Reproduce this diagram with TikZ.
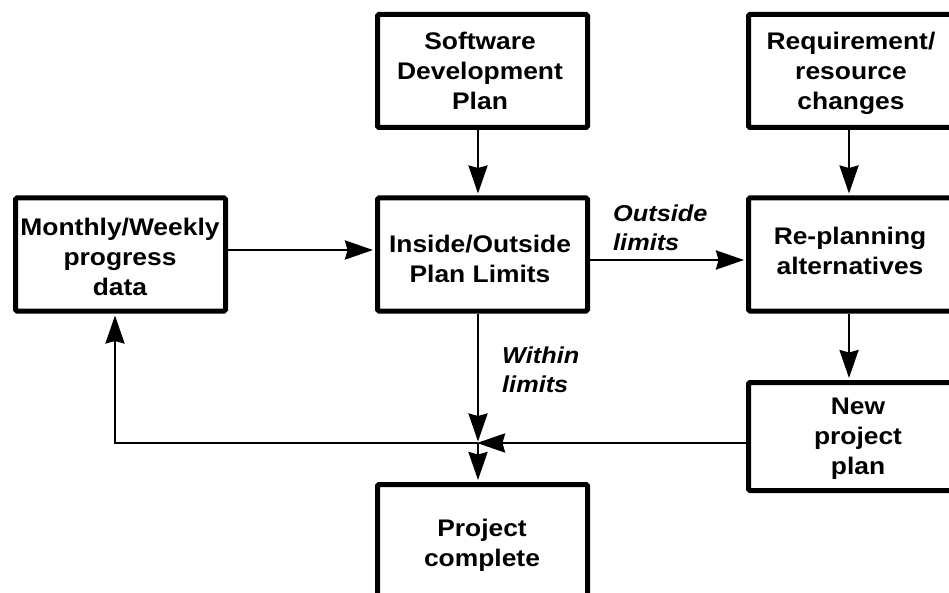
\documentclass[tikz,border=0pt]{standalone}
\usepackage{fontspec}
\setmainfont{Liberation Sans}
\newfontfamily\boxfont[FakeStretch=1.1]{Liberation Sans}
\usetikzlibrary{arrows.meta}
\begin{document}
\begin{tikzpicture}[x=1pt,y=-1pt,
  box/.style={draw, line width=5pt, rounded corners=1.5pt, fill=white,
    minimum width=210pt, minimum height=113pt, inner sep=0pt},
  boxtext/.style={inner sep=0pt, align=center,
    font=\boxfont\bfseries\fontsize{24}{30}\selectfont},
  flow/.style={line width=2.5pt, shorten >=2pt,
    -{Stealth[length=28pt,width=19pt,inset=2.5pt]}},
  lbl/.style={inner sep=0pt, align=left, anchor=north west,
    font=\boxfont\bfseries\itshape\fontsize{23}{29}\selectfont}]
\useasboundingbox (0,0) rectangle (949,593);
\clip (0,0) rectangle (949,593);

% process boxes (right column and bottom box run past the page edge)
\node[box] (monthly)  at (120.5,254.5) {};
\node[box] (software) at (482.5,71)    {};
\node[box] (inside)   at (482.5,254.5) {};
\node[box] (req)      at (853.5,71)    {};
\node[box] (replan)   at (853.5,254.5) {};
\node[box, minimum height=108pt] (newplan) at (853.5,436.5) {};
\node[box] (project)  at (482.5,541)   {};

% box captions
\node[boxtext] (monthlytxt)  at (120,256.5) {Monthly/Weekly\\progress\\data};
\node[boxtext] (softwaretxt) at (480,71)    {Software\\Development\\Plan};
\node[boxtext] (insidetxt)   at (480,258.5) {Inside/Outside\\Plan Limits};
\node[boxtext] (reqtxt)      at (851,73.5)  {Requirement/\\resource\\changes};
\node[boxtext] (replantxt)   at (850,251)   {Re-planning\\alternatives};
\node[boxtext] (newplantxt)  at (858,439)   {New\\project\\plan};
\node[boxtext] (projecttxt)  at (482,545)   {Project\\complete};

% branch labels
\node[lbl] (outlbl) at (613,205) {Outside\\limits};
\node[lbl] (inlbl)  at (502,347) {Within\\limits};

% merge point below the decision box
\coordinate (junc) at (478,443);

% connectors
\draw[flow] ([xshift=-4.5pt]software.south) -- ([xshift=-4.5pt]inside.north);
\draw[flow] ([xshift=-4.5pt]req.south) -- ([xshift=-4.5pt]replan.north);
\draw[flow] ([yshift=4.5pt]monthly.east) -- ([yshift=4.5pt]inside.west);
\draw[flow] ([yshift=-5.5pt]inside.east) -- ([yshift=-5.5pt]replan.west);
\draw[flow] ([xshift=-4.5pt]replan.south) -- ([xshift=-4.5pt]newplan.north);
\draw[flow, shorten >=1.5pt] ([xshift=-4.5pt]inside.south) -- (junc);
\draw[flow, shorten >=-1pt] (newplan.west |- junc) -- (junc);
\draw[flow] (junc) -- (project.north -| junc);
\draw[flow] (junc) -| ([xshift=-5.5pt]monthly.south);
\end{tikzpicture}
\end{document}
